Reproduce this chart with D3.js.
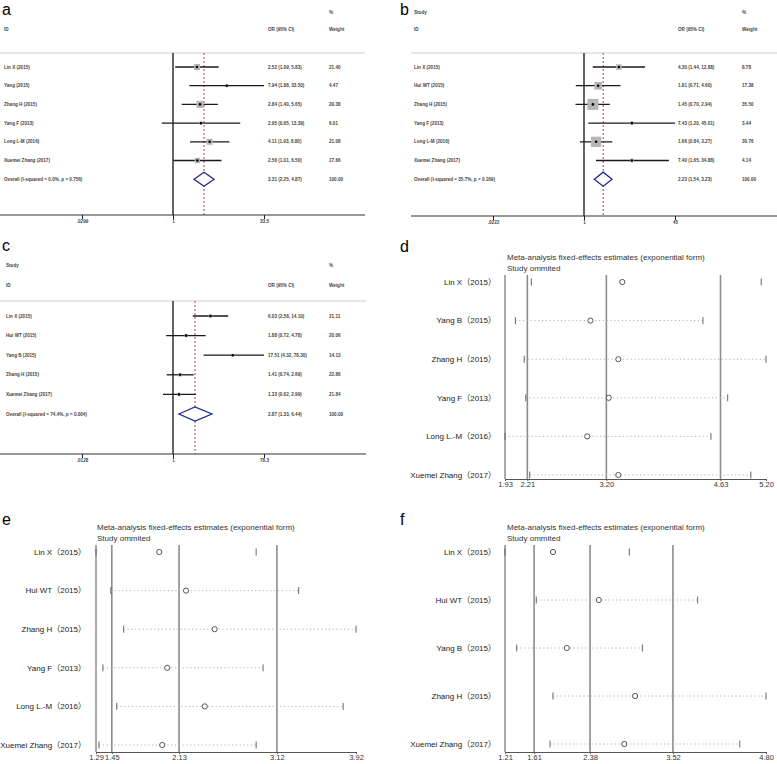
<!DOCTYPE html>
<html><head><meta charset="utf-8">
<script src="https://cdn.jsdelivr.net/npm/d3@7"></script>
<style>body{margin:0;background:#fff}</style>
</head><body>
<svg id="fig" width="777" height="764"></svg>
<script>
// ---------- Panel a (forest plot) ----------
const aStudies = ["Lin X  (2015)", "Yang  (2015)", "Zhang H  (2015)", "Yang F  (2013)", "Long L-M  (2016)", "Xuemei Zhang  (2017)"];
const aOR = [2.52, 7.94, 2.84, 2.95, 4.11, 2.56];
const aLo = [1.09, 1.88, 1.40, 0.65, 1.93, 1.01];
const aHi = [5.83, 33.50, 5.65, 13.39, 8.80, 6.50];
const aWeight = [21.40, 4.47, 29.38, 6.01, 21.08, 17.66];
const aOverall = [3.31, 2.25, 4.87];
const aHet = "Overall  (I-squared = 0.0%, p = 0.756)";
const aTicks = [1 / 33.5, 1, 33.5];
const aTickLabels = [".0299", "1", "33.5"];

// ---------- Panel b (forest plot) ----------
const bStudies = ["Lin X  (2015)", "Hui WT  (2015)", "Zhang H  (2015)", "Yang F  (2013)", "Long L-M  (2016)", "Xuemei Zhang  (2017)"];
const bOR = [4.30, 1.81, 1.45, 7.43, 1.66, 7.40];
const bLo = [1.44, 0.71, 0.70, 1.20, 0.84, 1.65];
const bHi = [12.88, 4.60, 2.94, 45.01, 3.27, 34.88];
const bWeight = [8.78, 17.38, 35.50, 3.44, 30.76, 4.14];
const bOverall = [2.23, 1.54, 3.23];
const bHet = "Overall  (I-squared = 35.7%, p = 0.169)";
const bTicks = [1 / 45, 1, 45];
const bTickLabels = [".0222", "1", "45"];

// ---------- Panel c (forest plot) ----------
const cStudies = ["Lin X  (2015)", "Hui WT  (2015)", "Yang B  (2015)", "Zhang H  (2015)", "Xuemei Zhang  (2017)"];
const cOR = [6.03, 1.88, 17.51, 1.41, 1.33];
const cLo = [2.58, 0.72, 4.32, 0.74, 0.62];
const cHi = [14.10, 4.78, 78.30, 2.69, 2.99];
const cWeight = [21.11, 20.06, 14.13, 22.86, 21.84];
const cOverall = [2.87, 1.33, 6.44];
const cHet = "Overall  (I-squared = 74.4%, p = 0.004)";
const cTicks = [1 / 78.3, 1, 78.3];
const cTickLabels = [".0128", "1", "78.3"];

// ---------- Panel d (influence) ----------
const dStudies = ["Lin X（2015）", "Yang B（2015）", "Zhang H（2015）", "Yang F（2013）", "Long L.-M（2016）", "Xuemei Zhang（2017）"];
const dEst = [3.40, 3.00, 3.35, 3.23, 2.96, 3.35];
const dLo = [2.26, 2.06, 2.17, 2.19, 1.93, 2.24];
const dHi = [5.14, 4.41, 5.20, 4.72, 4.51, 5.01];
const dRef = [2.21, 3.20, 4.63];
const dTicks = [1.93, 2.21, 3.20, 4.63, 5.20];

// ---------- Panel e (influence) ----------
const eStudies = ["Lin X（2015）", "Hui WT（2015）", "Zhang H（2015）", "Yang F（2013）", "Long L.-M（2016）", "Xuemei Zhang（2017）"];
const eEst = [1.93, 2.20, 2.49, 2.01, 2.39, 1.96];
const eLo = [1.29, 1.44, 1.57, 1.36, 1.50, 1.32];
const eHi = [2.91, 3.34, 3.92, 2.98, 3.79, 2.91];
const eRef = [1.45, 2.13, 3.12];
const eTicks = [1.29, 1.45, 2.13, 3.12, 3.92];

// ---------- Panel f (influence) ----------
const fStudies = ["Lin X（2015）", "Hui WT（2015）", "Yang B（2015）", "Zhang H（2015）", "Xuemei Zhang（2017）"];
const fEst = [1.87, 2.50, 2.06, 3.00, 2.85];
const fLo = [1.21, 1.64, 1.37, 1.87, 1.83];
const fHi = [2.92, 3.86, 3.10, 4.80, 4.44];
const fRef = [1.61, 2.38, 3.52];
const fTicks = [1.21, 1.61, 2.38, 3.52, 4.80];

const titleText = "Meta-analysis fixed-effects estimates (exponential form)";
const subTitleText = "Study ommited";
const panelLetters = ["a", "b", "c", "d", "e", "f"];

const svg = d3.select("#fig");
svg.append("rect").attr("width", 777).attr("height", 764).attr("fill", "#fff");
const FONT = "'Liberation Sans', Arial, 'Noto Sans CJK SC', sans-serif";
const f2 = d3.format(".2f");

function forest(c) {
  const g = svg.append("g");
  const x = d3.scaleLog().domain([c.ticks[0], c.ticks[2]]).range([c.nullX - 91, c.nullX + 91]).clamp(true);
  const n = c.studies.length;
  const rowY = i => c.rowTop + i * c.rowStep;
  const tiny = sel => sel.attr("font-family", FONT).attr("font-size", 4.6).attr("font-weight", "bold").attr("fill", "#444");

  if (c.showStudy) g.append("text").attr("x", c.textX).attr("y", c.hdrY1).text("Study").call(tiny);
  g.append("text").attr("x", c.colW).attr("y", c.hdrY1).text("%").call(tiny);
  g.append("text").attr("x", c.textX).attr("y", c.hdrY2).text("ID").call(tiny);
  g.append("text").attr("x", c.colOR).attr("y", c.hdrY2).text("OR (95% CI)").call(tiny);
  g.append("text").attr("x", c.colW).attr("y", c.hdrY2).text("Weight").call(tiny);

  g.append("line").attr("x1", c.lineX1).attr("x2", c.lineX2).attr("y1", c.sepY).attr("y2", c.sepY)
    .attr("stroke", "#cfcfcf").attr("stroke-width", 1);

  g.append("line").attr("x1", x(1)).attr("x2", x(1)).attr("y1", c.sepY).attr("y2", c.axisY)
    .attr("stroke", "#111").attr("stroke-width", 1.3);
  g.append("line").attr("x1", x(c.overall[0])).attr("x2", x(c.overall[0])).attr("y1", c.sepY).attr("y2", c.axisY)
    .attr("stroke", "#c23b3b").attr("stroke-width", 1).attr("stroke-dasharray", "2,2");

  for (let i = 0; i < n; i++) {
    const y = rowY(i);
    g.append("line").attr("x1", x(c.lo[i])).attr("x2", x(c.hi[i])).attr("y1", y).attr("y2", y)
      .attr("stroke", "#1a1a1a").attr("stroke-width", 1.3);
    const s = c.boxK * Math.sqrt(c.wt[i]);
    g.append("rect").attr("x", x(c.or[i]) - s / 2).attr("y", y - s / 2).attr("width", s).attr("height", s)
      .attr("fill", "#b5b5b5");
    g.append("circle").attr("cx", x(c.or[i])).attr("cy", y).attr("r", 1.3).attr("fill", "#000");
    g.append("text").attr("x", c.textX).attr("y", y + 1.6).text(c.studies[i]).call(tiny);
    g.append("text").attr("x", c.colOR).attr("y", y + 1.6)
      .text(`${f2(c.or[i])} (${f2(c.lo[i])}, ${f2(c.hi[i])})`).call(tiny);
    g.append("text").attr("x", c.colW).attr("y", y + 1.6).text(f2(c.wt[i])).call(tiny);
  }
  const yo = rowY(n);
  const [oe, ol, oh] = c.overall;
  g.append("path")
    .attr("d", `M${x(ol)},${yo} L${x(oe)},${yo - 7} L${x(oh)},${yo} L${x(oe)},${yo + 7} Z`)
    .attr("fill", "#fff").attr("stroke", "#1d2a8e").attr("stroke-width", 1.3);
  g.append("text").attr("x", c.textX).attr("y", yo + 1.6).text(c.het).call(tiny);
  g.append("text").attr("x", c.colOR).attr("y", yo + 1.6).text(`${f2(oe)} (${f2(ol)}, ${f2(oh)})`).call(tiny);
  g.append("text").attr("x", c.colW).attr("y", yo + 1.6).text("100.00").call(tiny);

  g.append("line").attr("x1", c.lineX1).attr("x2", c.lineX2).attr("y1", c.axisY).attr("y2", c.axisY)
    .attr("stroke", "#333").attr("stroke-width", 1.2);
  const ax = g.append("g").attr("transform", `translate(0,${c.axisY})`)
    .call(d3.axisBottom(x).tickValues(c.ticks).tickSize(4).tickSizeOuter(0).tickFormat((d, i) => c.tickLabels[i]));
  ax.select(".domain").remove();
  ax.selectAll(".tick line").attr("stroke", "#222");
  ax.selectAll(".tick text").attr("font-family", FONT).attr("font-size", 4.6).attr("font-weight", "bold")
    .attr("fill", "#444").attr("dy", "0.3em");
}

function influence(c) {
  const g = svg.append("g");
  const x = d3.scaleLinear().domain([c.ticks[0], c.ticks[c.ticks.length - 1]]).range([c.left, c.right]);
  const y = d3.scalePoint().domain(c.studies).range([c.rowTop, c.rowBottom]);

  g.append("text").attr("x", c.titleX).attr("y", c.titleY).text(titleText)
    .attr("font-family", FONT).attr("font-size", 8).attr("fill", "#333");
  g.append("text").attr("x", c.titleX).attr("y", c.titleY + 11).text(subTitleText)
    .attr("font-family", FONT).attr("font-size", 8).attr("fill", "#333");

  c.ref.forEach(v => {
    g.append("line").attr("x1", x(v)).attr("x2", x(v)).attr("y1", c.top).attr("y2", c.bottom)
      .attr("stroke", "#8c8c8c").attr("stroke-width", 1.6);
  });
  g.append("line").attr("x1", c.left).attr("x2", c.left).attr("y1", c.top).attr("y2", c.bottom)
    .attr("stroke", "#555").attr("stroke-width", 1);

  const ax = g.append("g").attr("transform", `translate(0,${c.bottom})`)
    .call(d3.axisBottom(x).tickValues(c.ticks).tickSize(2).tickPadding(1).tickSizeOuter(0).tickFormat(d3.format(".2f")));
  ax.select(".domain").attr("stroke", "#555");
  ax.selectAll(".tick line").attr("stroke", "#555");
  ax.selectAll(".tick text").attr("font-family", FONT).attr("font-size", 7.5).attr("fill", "#333");

  c.studies.forEach((s, i) => {
    const yy = y(s);
    g.append("text").attr("x", c.labelX).attr("y", yy).attr("dy", "0.35em").attr("text-anchor", "end")
      .text(s).attr("font-family", FONT).attr("font-size", 8).attr("fill", "#222");
    if (i > 0) {
      g.append("line").attr("x1", x(c.lo[i])).attr("x2", x(c.hi[i])).attr("y1", yy).attr("y2", yy)
        .attr("stroke", "#b0b0b0").attr("stroke-width", 1).attr("stroke-dasharray", "1.2,2.6");
    }
    [c.lo[i], c.hi[i]].forEach(v => {
      g.append("line").attr("x1", x(v)).attr("x2", x(v)).attr("y1", yy - 3.5).attr("y2", yy + 3.5)
        .attr("stroke", "#666").attr("stroke-width", 1);
    });
    g.append("circle").attr("cx", x(c.est[i])).attr("cy", yy).attr("r", 2.6)
      .attr("fill", "#fff").attr("stroke", "#555").attr("stroke-width", 1);
  });
}

forest({studies: aStudies, or: aOR, lo: aLo, hi: aHi, wt: aWeight, overall: aOverall, het: aHet,
  ticks: aTicks, tickLabels: aTickLabels, nullX: 173, textX: 4, colOR: 268, colW: 329,
  hdrY1: 14, hdrY2: 31, sepY: 53, lineX1: 0, lineX2: 365, axisY: 215, rowTop: 67, rowStep: 18.7,
  boxK: 1.3, showStudy: false});
forest({studies: bStudies, or: bOR, lo: bLo, hi: bHi, wt: bWeight, overall: bOverall, het: bHet,
  ticks: bTicks, tickLabels: bTickLabels, nullX: 584, textX: 414, colOR: 678, colW: 742,
  hdrY1: 14, hdrY2: 31, sepY: 53, lineX1: 411, lineX2: 777, axisY: 216, rowTop: 67, rowStep: 18.7,
  boxK: 1.85, showStudy: true});
forest({studies: cStudies, or: cOR, lo: cLo, hi: cHi, wt: cWeight, overall: cOverall, het: cHet,
  ticks: cTicks, tickLabels: cTickLabels, nullX: 173, textX: 6, colOR: 268, colW: 329,
  hdrY1: 267, hdrY2: 287, sepY: 301, lineX1: 0, lineX2: 366, axisY: 454, rowTop: 316, rowStep: 19.6,
  boxK: 0.75, showStudy: true});

influence({studies: dStudies, est: dEst, lo: dLo, hi: dHi, ref: dRef, ticks: dTicks,
  left: 505, right: 766, top: 275, bottom: 479, rowTop: 282, rowBottom: 475, labelX: 496, titleX: 507, titleY: 260});
influence({studies: eStudies, est: eEst, lo: eLo, hi: eHi, ref: eRef, ticks: eTicks,
  left: 96, right: 356, top: 545, bottom: 752, rowTop: 552, rowBottom: 745, labelX: 86, titleX: 97, titleY: 530});
influence({studies: fStudies, est: fEst, lo: fLo, hi: fHi, ref: fRef, ticks: fTicks,
  left: 505, right: 766, top: 545, bottom: 752, rowTop: 552, rowBottom: 744, labelX: 496, titleX: 507, titleY: 530});

const letterPos = [[2, 15], [400, 15], [2, 251], [400, 252], [2, 525], [400, 525]];
panelLetters.forEach((l, i) => {
  svg.append("text").attr("x", letterPos[i][0]).attr("y", letterPos[i][1]).text(l)
    .attr("font-family", FONT).attr("font-size", 16).attr("fill", "#000");
});
</script>
</body></html>
